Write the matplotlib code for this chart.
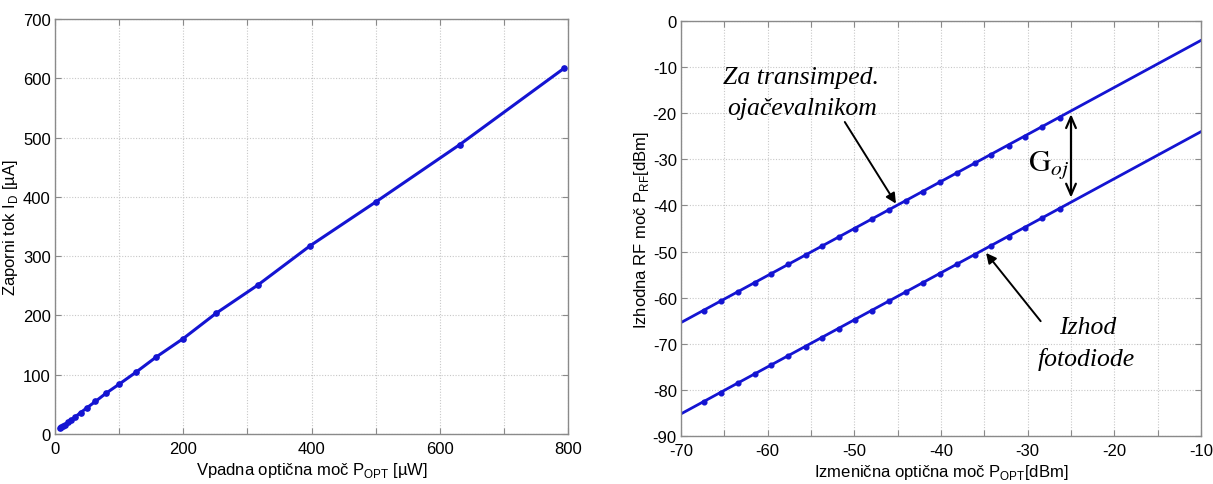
import matplotlib
matplotlib.use("Agg")
import matplotlib.pyplot as plt
from matplotlib.ticker import MultipleLocator

plt.rcParams["axes.unicode_minus"] = False

# ---- Photodiode DC response ----
p_opt_uw = [7.9, 10.0, 12.6, 15.8, 20.0, 25.1, 31.6, 39.8, 50.1, 63.1, 79.4,
            100, 126, 158, 200, 251, 316, 398, 501, 631, 794]
i_d_ua = [9.5, 11.5, 13.5, 16.0, 19.5, 23.5, 29.0, 36.0, 44.4, 55.0, 68.6,
          84.0, 104, 130, 161, 203.5, 251, 317.6, 392, 488, 617]

# ---- RF output power vs. modulated optical power ----
p_ac_dbm = [-67.4, -65.4, -63.4, -61.5, -59.6, -57.6, -55.6, -53.7, -51.8,
            -49.9, -48.0, -46.0, -44.0, -42.1, -40.1, -38.1, -36.1, -34.2,
            -32.2, -30.3, -28.3, -26.3]
p_rf_tia = [-62.8, -60.8, -58.8, -56.8, -54.9, -52.8, -50.8, -48.9, -46.9,
            -45.0, -43.0, -41.0, -39.0, -37.0, -35.0, -33.0, -30.9, -29.0,
            -27.0, -25.1, -23.0, -21.0]
p_rf_pd = [-82.6, -80.6, -78.6, -76.6, -74.7, -72.6, -70.6, -68.7, -66.7,
           -64.8, -62.8, -60.8, -58.8, -56.8, -54.8, -52.8, -50.7, -48.8,
           -46.8, -44.9, -42.8, -40.8]

# linear fits across the full axis range
fit_x = [-70, -10]
fit_tia = [-65.4, -4.2]
fit_pd = [-85.2, -24.0]

blue = "#1414d2"
spine_col = "#8a8a8a"
label_font = dict(family="Liberation Sans", size=12)

fig = plt.figure(figsize=(12.13, 4.85), dpi=100)
ax1 = fig.add_axes([55 / 1213, 50 / 485, 513 / 1213, 415 / 485])
ax2 = fig.add_axes([681 / 1213, 48 / 485, 520 / 1213, 415 / 485])


def style_axes(ax):
    for s in ax.spines.values():
        s.set_color(spine_col)
        s.set_linewidth(1.0)
    ax.tick_params(which="both", direction="in", top=True, right=True,
                   color=spine_col, length=4, width=0.8, labelsize=12)
    ax.tick_params(axis="x", which="both", pad=5)
    ax.tick_params(axis="y", which="both", pad=3)
    ax.grid(True, which="both", linestyle=(0, (1, 1.5)), color="#c8c8c8",
            linewidth=0.8)
    ax.set_axisbelow(True)
    for lab in ax.get_xticklabels() + ax.get_yticklabels():
        lab.set_fontfamily("Liberation Sans")
        lab.set_fontsize(12)


# left panel
ax1.plot(p_opt_uw, i_d_ua, color=blue, lw=2.2, marker="o", ms=3.8)
ax1.set_xlim(0, 800)
ax1.set_ylim(0, 700)
ax1.xaxis.set_major_locator(MultipleLocator(200))
ax1.xaxis.set_minor_locator(MultipleLocator(100))
ax1.yaxis.set_major_locator(MultipleLocator(100))
style_axes(ax1)
ax1.set_xlabel(r"Vpadna optična moč P$_{\mathregular{OPT}}$ [µW]",
               labelpad=3, **label_font)
ax1.set_ylabel(r"Zaporni tok I$_{\mathregular{D}}$ [µA]", labelpad=2,
               **label_font)

# right panel
ax2.plot(fit_x, fit_tia, color=blue, lw=2.0)
ax2.plot(fit_x, fit_pd, color=blue, lw=2.0)
ax2.plot(p_ac_dbm, p_rf_tia, color=blue, lw=0, marker="o", ms=3.4)
ax2.plot(p_ac_dbm, p_rf_pd, color=blue, lw=0, marker="o", ms=3.4)
ax2.set_xlim(-70, -10)
ax2.set_ylim(-90, 0)
ax2.xaxis.set_major_locator(MultipleLocator(10))
ax2.xaxis.set_minor_locator(MultipleLocator(5))
ax2.yaxis.set_major_locator(MultipleLocator(10))
style_axes(ax2)
ax2.set_xlabel(r"Izmenična optična moč P$_{\mathregular{OPT}}$[dBm]",
               labelpad=3, **label_font)
ax2.set_ylabel(r"Izhodna RF moč P$_{\mathregular{RF}}$[dBm]", labelpad=1,
               **label_font)

note_font = dict(family="Liberation Serif", style="italic", size=18.5)
ax2.text(-56.2, -12.1, "Za transimped.", ha="center", va="center",
         **note_font)
ax2.text(-56.0, -18.9, "ojačevalnikom", ha="center", va="center",
         **note_font)
ax2.annotate("", xy=(-45.2, -39.6), xytext=(-51.1, -21.9),
             arrowprops=dict(arrowstyle="-|>", color="black", lw=1.4,
                             mutation_scale=15, shrinkA=0, shrinkB=0))

ax2.text(-23.1, -66.4, "Izhod", ha="center", va="center", **note_font)
ax2.text(-23.2, -73.3, "fotodiode", ha="center", va="center", **note_font)
ax2.annotate("", xy=(-34.8, -50.3), xytext=(-28.5, -65.1),
             arrowprops=dict(arrowstyle="-|>", color="black", lw=1.4,
                             mutation_scale=15, shrinkA=0, shrinkB=0))

ax2.annotate("", xy=(-25.0, -20.2), xytext=(-25.0, -38.3),
             arrowprops=dict(arrowstyle="<->,head_length=0.8,head_width=0.35",
                             color="black", lw=1.6, shrinkA=0, shrinkB=0))
ax2.text(-27.6, -31.0, r"$\mathrm{G}_{oj}$", ha="center", va="center",
         fontsize=22, math_fontfamily="stix")

fig.savefig("out.png", dpi=100)
